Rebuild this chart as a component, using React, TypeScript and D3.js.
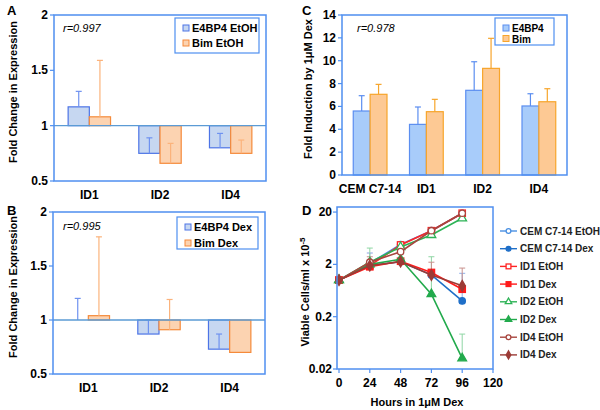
import React from 'react';
import * as d3 from 'd3';

const FONT = 'Arial, "Liberation Sans", sans-serif';
const AXIS = '#4f8ff0';

// panels A and B
const linesAB = ['ID1', 'ID2', 'ID4'];
const e4bp4Etoh = [1.17, 0.75, 0.8];
const e4bp4EtohErr = [0.14, 0.14, 0.13];
const bimEtoh = [1.08, 0.66, 0.75];
const bimEtohErr = [0.51, 0.18, 0.12];
const e4bp4Dex = [1.0, 0.87, 0.73];
const e4bp4DexErr = [0.2, 0.13, 0.14];
const bimDex = [1.04, 0.91, 0.7];
const bimDexErr = [0.73, 0.28, 0];
const ticksAB = [0.5, 1, 1.5, 2];

// panel C
const linesC = ['CEM C7-14', 'ID1', 'ID2', 'ID4'];
const e4bp4Ind = [5.6, 4.43, 7.41, 6.04];
const e4bp4IndErr = [1.34, 1.52, 2.5, 1.07];
const bimInd = [7.06, 5.54, 9.33, 6.41];
const bimIndErr = [0.87, 1.08, 2.63, 1.14];
const ticksC = [0, 2, 4, 6, 8, 10, 12, 14];

// panel D
const hours = [0, 24, 48, 72, 96];
const hourTicks = [0, 24, 48, 72, 96, 120];
const viableTicks = [0.02, 0.2, 2, 20];
const cemEtoh = [1.0, 2.1, 4.8, 8.8, 19.0];
const cemDex = [1.0, 1.9, 2.25, 1.26, 0.4];
const id1Etoh = [1.0, 1.9, 4.7, 8.8, 19.0];
const id1Dex = [1.0, 1.8, 2.3, 1.4, 0.67];
const id2Etoh = [1.0, 2.2, 4.3, 7.3, 15.2];
const id2Dex = [1.0, 2.0, 2.5, 0.54, 0.032];
const id4Etoh = [1.0, 2.2, 3.5, 8.8, 19.0];
const id4Dex = [1.0, 1.9, 2.25, 1.25, 0.78];
const cemEtohErr = [null, 3.3, 5.1, null, null];
const cemDexErr = [null, null, null, null, 1.35];
const id2EtohErr = [null, 4.1, null, null, null];
const id2DexErr = [null, null, null, 2.8, 0.093];
const id4EtohErr = [null, 2.8, null, null, null];
const id4DexErr = [null, null, null, 2.2, 1.7];

type Series = { label: string; values: number[]; errs: number[]; fill: string; stroke: string; err: string };

const blueAB = { fill: '#c6d7f1', stroke: '#4d74e6', err: '#6f92f0' };
const orangeAB = { fill: '#fcd3b1', stroke: '#f58a3a', err: '#fbb37c' };
const blueC = { fill: '#a8ccfa', stroke: '#5b8ef0', err: '#5b8ef0' };
const orangeC = { fill: '#fdc994', stroke: '#f7a52b', err: '#f7a52b' };

function BarPanel(p: {
  x0: number; x1: number; y0: number; y1: number;
  domain: [number, number]; ticks: number[]; base: number;
  cats: string[]; series: Series[];
  letter: string; lx: number; ly: number;
  ylabel: string; ylabelX: number;
  rText: string; rx: number; ry: number;
  legend: { x: number; y: number; w: number; h: number; fs: number; gap: number };
}) {
  const y = d3.scaleLinear().domain(p.domain).range([p.y1, p.y0]);
  const x = d3.scaleBand().domain(p.cats).range([p.x0, p.x1]).padding(0);
  const bw = x.step() * 0.3;
  const lg = p.legend;
  return (
    <g fontFamily={FONT}>
      <text x={p.lx} y={p.ly} fontWeight="bold" fontSize={13}>{p.letter}</text>
      {p.cats.map((c, i) =>
        p.series.map((s, j) => {
          const bx = (x(c) ?? 0) + x.step() / 2 - bw + j * bw;
          const v = s.values[i];
          const top = Math.min(y(v), y(p.base));
          const h = Math.abs(y(v) - y(p.base));
          const e = s.errs[i];
          const cx = bx + bw / 2;
          return (
            <g key={c + j}>
              <rect x={bx} y={top} width={bw} height={h} fill={s.fill} stroke={s.stroke} strokeWidth={1.2} />
              {e > 0 && (
                <g stroke={s.err} strokeWidth={1.2}>
                  <line x1={cx} x2={cx} y1={y(v)} y2={y(v + e)} />
                  <line x1={cx - 3} x2={cx + 3} y1={y(v + e)} y2={y(v + e)} />
                </g>
              )}
            </g>
          );
        })
      )}
      {p.base !== p.domain[0] && (
        <line x1={p.x0} x2={p.x1} y1={y(p.base)} y2={y(p.base)} stroke="#5b9bd5" strokeWidth={1.3} />
      )}
      <rect x={p.x0} y={p.y0} width={p.x1 - p.x0} height={p.y1 - p.y0} fill="none" stroke={AXIS} strokeWidth={1.5} />
      {p.ticks.map(t => (
        <g key={t}>
          <line x1={p.x0 - 4} x2={p.x0} y1={y(t)} y2={y(t)} stroke={AXIS} strokeWidth={1.2} />
          <text x={p.x0 - 6} y={y(t) + 4} textAnchor="end" fontSize={12} fontWeight="bold">{t}</text>
        </g>
      ))}
      {p.cats.map(c => (
        <text key={c} x={(x(c) ?? 0) + x.step() / 2} y={p.y1 + 18} textAnchor="middle" fontSize={12} fontWeight="bold">{c}</text>
      ))}
      <text transform={`translate(${p.ylabelX},${(p.y0 + p.y1) / 2 - 6}) rotate(-90)`} textAnchor="middle" fontSize={11} fontWeight="bold">{p.ylabel}</text>
      <text x={p.rx} y={p.ry} fontSize={11} fontStyle="italic">{p.rText}</text>
      <rect x={lg.x} y={lg.y} width={lg.w} height={lg.h} fill="#fff" stroke={AXIS} strokeWidth={1.2} />
      {p.series.map((s, j) => (
        <g key={s.label}>
          <rect x={lg.x + 8} y={lg.y + 7 + j * lg.gap} width={6} height={6} fill={s.fill} stroke={s.stroke} strokeWidth={1} />
          <text x={lg.x + 17} y={lg.y + 14 + j * lg.gap} fontSize={lg.fs} fontWeight="bold">{s.label}</text>
        </g>
      ))}
    </g>
  );
}

type LineSeries = { label: string; values: number[]; errs: (number | null)[]; color: string; errColor: string; shape: string; open: boolean };

const lineSeries: LineSeries[] = [
  { label: 'CEM C7-14 EtOH', values: cemEtoh, errs: cemEtohErr, color: '#4a90e2', errColor: '#8a9fe0', shape: 'circle', open: true },
  { label: 'CEM C7-14 Dex', values: cemDex, errs: cemDexErr, color: '#1f6fc8', errColor: '#8fb0e8', shape: 'circle', open: false },
  { label: 'ID1 EtOH', values: id1Etoh, errs: [null, null, null, null, null], color: '#ff2424', errColor: '#ff9a9a', shape: 'square', open: true },
  { label: 'ID1 Dex', values: id1Dex, errs: [null, null, null, null, null], color: '#ff1a1a', errColor: '#ff9a9a', shape: 'square', open: false },
  { label: 'ID2 EtOH', values: id2Etoh, errs: id2EtohErr, color: '#2db356', errColor: '#8fd6a4', shape: 'triangle', open: true },
  { label: 'ID2 Dex', values: id2Dex, errs: id2DexErr, color: '#22aa4c', errColor: '#8fd6a4', shape: 'triangle', open: false },
  { label: 'ID4 EtOH', values: id4Etoh, errs: id4EtohErr, color: '#a8463f', errColor: '#c9908c', shape: 'circle', open: true },
  { label: 'ID4 Dex', values: id4Dex, errs: id4DexErr, color: '#9c3b36', errColor: '#c9908c', shape: 'diamond', open: false },
];

function Marker({ s, cx, cy, size }: { s: LineSeries; cx: number; cy: number; size: number }) {
  const fill = s.open ? '#fff' : s.color;
  if (s.shape === 'circle') return <circle cx={cx} cy={cy} r={size} fill={fill} stroke={s.color} strokeWidth={1.3} />;
  if (s.shape === 'square') return <rect x={cx - size} y={cy - size} width={size * 2} height={size * 2} fill={fill} stroke={s.color} strokeWidth={1.3} />;
  const sym = d3.symbol().type(s.shape === 'triangle' ? d3.symbolTriangle : d3.symbolDiamond).size(size * size * 3.2)();
  return <path d={sym ?? ''} transform={`translate(${cx},${cy})`} fill={fill} stroke={s.color} strokeWidth={1.3} />;
}

function LinePanel() {
  const x0 = 337, x1 = 493, y0 = 207, y1 = 369;
  const x = d3.scaleLinear().domain([0, 120]).range([x0 + 2, x1]);
  const y = d3.scaleLog().domain([0.02, 25]).range([y1, y0]);
  const line = d3.line<number>().x((_, i) => x(hours[i])).y(d => y(d));
  return (
    <g fontFamily={FONT}>
      <text x={302} y={215} fontWeight="bold" fontSize={13}>D</text>
      {lineSeries.map(s => (
        <g key={s.label + 'e'} stroke={s.errColor} strokeWidth={1}>
          {s.errs.map((e, i) => e === null ? null : (
            <g key={i}>
              <line x1={x(hours[i])} x2={x(hours[i])} y1={y(s.values[i])} y2={y(e)} />
              <line x1={x(hours[i]) - 3} x2={x(hours[i]) + 3} y1={y(e)} y2={y(e)} />
            </g>
          ))}
        </g>
      ))}
      {lineSeries.map(s => (
        <g key={s.label}>
          <path d={line(s.values) ?? ''} fill="none" stroke={s.color} strokeWidth={1.6} />
          {s.values.map((v, i) => <Marker key={i} s={s} cx={x(hours[i])} cy={y(v)} size={3.2} />)}
        </g>
      ))}
      <rect x={x0} y={y0} width={x1 - x0} height={y1 - y0} fill="none" stroke={AXIS} strokeWidth={1.5} />
      {viableTicks.map(t => (
        <g key={t}>
          <line x1={x0 - 4} x2={x0} y1={y(t)} y2={y(t)} stroke={AXIS} strokeWidth={1.2} />
          <text x={x0 - 5} y={y(t) + 4} textAnchor="end" fontSize={12} fontWeight="bold">{t}</text>
        </g>
      ))}
      {hourTicks.map(t => (
        <g key={t}>
          <line x1={x(t)} x2={x(t)} y1={y1} y2={y1 + 4} stroke={AXIS} strokeWidth={1.2} />
          <text x={x(t)} y={y1 + 18} textAnchor="middle" fontSize={12} fontWeight="bold">{t}</text>
        </g>
      ))}
      <text x={417} y={406} textAnchor="middle" fontSize={11} fontWeight="bold">Hours in 1μM Dex</text>
      <text transform={`translate(309,${(y0 + y1) / 2 + 4}) rotate(-90)`} textAnchor="middle" fontSize={11} fontWeight="bold">
        Viable Cells/ml x 10<tspan fontSize={8} dy={-4}>-5</tspan>
      </text>
      {lineSeries.map((s, j) => {
        const ly = 231 + j * 17.7;
        return (
          <g key={s.label + 'l'}>
            <line x1={500} x2={517} y1={ly} y2={ly} stroke={s.color} strokeWidth={1.4} />
            <Marker s={s} cx={508.5} cy={ly} size={2.4} />
            <text x={520} y={ly + 3.5} fontSize={10} fontWeight="bold" fill="#222">{s.label}</text>
          </g>
        );
      })}
    </g>
  );
}

export default function App() {
  return (
    <svg width={600} height={410} style={{ position: 'absolute', left: 0, top: 0, background: '#fff' }}>
      <BarPanel
        x0={54} x1={266} y0={15} y1={181} domain={[0.5, 2]} ticks={ticksAB} base={1}
        cats={linesAB}
        series={[
          { label: 'E4BP4 EtOH', values: e4bp4Etoh, errs: e4bp4EtohErr, ...blueAB },
          { label: 'Bim EtOH', values: bimEtoh, errs: bimEtohErr, ...orangeAB },
        ]}
        letter="A" lx={7} ly={15} ylabel="Fold Change in Expression" ylabelX={17}
        rText="r=0.997" rx={63} ry={32}
        legend={{ x: 175, y: 18, w: 84, h: 35, fs: 11, gap: 15 }}
      />
      <BarPanel
        x0={53} x1={265} y0={212} y1={374} domain={[0.5, 2]} ticks={ticksAB} base={1}
        cats={linesAB}
        series={[
          { label: 'E4BP4 Dex', values: e4bp4Dex, errs: e4bp4DexErr, ...blueAB },
          { label: 'Bim Dex', values: bimDex, errs: bimDexErr, ...orangeAB },
        ]}
        letter="B" lx={7} ly={215} ylabel="Fold Change in Expression" ylabelX={17}
        rText="r=0.995" rx={63} ry={230}
        legend={{ x: 177, y: 217, w: 81, h: 32, fs: 11, gap: 16 }}
      />
      <BarPanel
        x0={342} x1={567} y0={15} y1={175} domain={[0, 14]} ticks={ticksC} base={0}
        cats={linesC}
        series={[
          { label: 'E4BP4', values: e4bp4Ind, errs: e4bp4IndErr, ...blueC },
          { label: 'Bim', values: bimInd, errs: bimIndErr, ...orangeC },
        ]}
        letter="C" lx={302} ly={15} ylabel="Fold Induction by 1μM Dex" ylabelX={312}
        rText="r=0.978" rx={357} ry={32}
        legend={{ x: 495, y: 18, w: 59, h: 27, fs: 10, gap: 10.5 }}
      />
      <LinePanel />
    </svg>
  );
}
